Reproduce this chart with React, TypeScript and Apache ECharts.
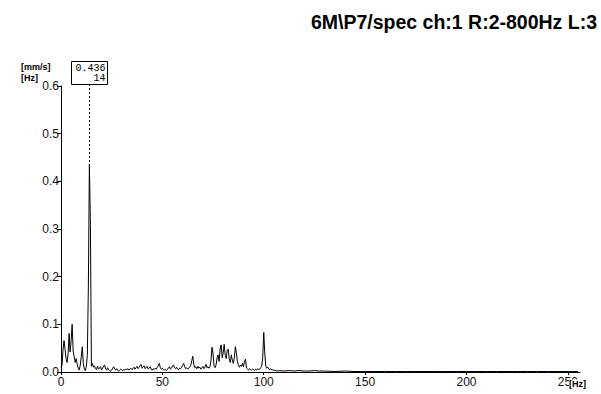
import React, { useEffect, useRef } from "react";
import * as echarts from "echarts";

// Spectrum bins (0.5 Hz resolution) from 0 Hz to 110 Hz, amplitude in mm/s
const BIN_HZ = 0.5;
const lowBandValues = [
  // 0 - 20 Hz
  0.010, 0.014, 0.046, 0.066, 0.048, 0.028, 0.020, 0.038, 0.081, 0.042,
  0.066, 0.100, 0.044, 0.032, 0.020, 0.028, 0.016, 0.008, 0.004, 0.014,
  0.032, 0.053, 0.018, 0.006, 0.003, 0.012, 0.035, 0.180, 0.436, 0.310,
  0.012, 0.018, 0.010, 0.013, 0.007, 0.005, 0.012, 0.006, 0.009, 0.011,
  0.004,
  // 20.5 - 40 Hz
  0.008, 0.012, 0.015, 0.006, 0.004, 0.009, 0.005, 0.003, 0.002, 0.004,
  0.008, 0.011, 0.006, 0.004, 0.007, 0.003, 0.002, 0.004, 0.006, 0.004,
  0.003, 0.005, 0.004, 0.006, 0.005, 0.007, 0.004, 0.006, 0.008, 0.005,
  0.007, 0.010, 0.006, 0.009, 0.012, 0.007, 0.010, 0.014, 0.016, 0.008,
  // 40.5 - 60 Hz
  0.011, 0.013, 0.007, 0.010, 0.012, 0.006, 0.008, 0.011, 0.006, 0.004,
  0.007, 0.005, 0.008, 0.006, 0.010, 0.013, 0.018, 0.009, 0.006, 0.008,
  0.005, 0.004, 0.006, 0.003, 0.005, 0.009, 0.011, 0.006, 0.008, 0.012,
  0.015, 0.009, 0.007, 0.010, 0.006, 0.005, 0.008, 0.007, 0.010, 0.014,
  // 60.5 - 80 Hz
  0.018, 0.011, 0.007, 0.009, 0.006, 0.008, 0.010, 0.014, 0.024, 0.033,
  0.016, 0.009, 0.011, 0.007, 0.012, 0.008, 0.010, 0.006, 0.009, 0.012,
  0.007, 0.010, 0.016, 0.009, 0.011, 0.008, 0.012, 0.025, 0.052, 0.038,
  0.012, 0.009, 0.015, 0.030, 0.036, 0.022, 0.048, 0.057, 0.030, 0.040,
  // 80.5 - 100 Hz
  0.058, 0.035, 0.028, 0.046, 0.048, 0.027, 0.020, 0.036, 0.025, 0.018,
  0.030, 0.053, 0.040, 0.022, 0.015, 0.010, 0.014, 0.012, 0.018, 0.011,
  0.022, 0.027, 0.008, 0.006, 0.004, 0.007, 0.005, 0.004, 0.006, 0.005,
  0.003, 0.006, 0.004, 0.007, 0.005, 0.006, 0.009, 0.012, 0.030, 0.083,
  // 100.5 - 110 Hz
  0.040, 0.012, 0.008, 0.010, 0.006, 0.005, 0.007, 0.004, 0.005, 0.003,
  0.004, 0.003, 0.002, 0.003, 0.002, 0.003, 0.002, 0.003, 0.002, 0.002,
];

// High band, sparse readings (almost flat on the axis)
const tailFreqs = [
  112.5, 115, 117.5, 120, 122.5, 125, 127.5, 130, 135, 140, 145, 150, 155,
  160, 165, 170, 175, 180, 185, 190, 195, 200, 205, 210, 215, 220, 225, 230,
  235, 240, 245, 250, 255,
];
const tailValues = [
  0.003, 0.002, 0.003, 0.002, 0.002, 0.003, 0.002, 0.002, 0.001, 0.002, 0.001,
  0.001, 0.001, 0.001, 0.001, 0.001, 0.001, 0.001, 0.001, 0.001, 0.001, 0.001,
  0.001, 0.001, 0.001, 0.001, 0.001, 0.001, 0.001, 0.001, 0.001, 0.001, 0.001,
];

const xTicks = [0, 50, 100, 150, 200, 250];
const yTicks = [0, 0.1, 0.2, 0.3, 0.4, 0.5, 0.6];
const X_MAX = 256;
const Y_MAX = 0.6;

const peakFreq = 14;
const peakValue = 0.436;

const titleText = "6M\\P7/spec ch:1 R:2-800Hz L:3";
const yUnitTop = "[mm/s]";
const yUnitBottom = "[Hz]";
const xUnit = "[Hz]";

const W = 601;
const H = 394;
const GRID = { left: 61, right: 21, top: 86, bottom: 22 };

export default function App() {
  const ref = useRef<HTMLDivElement>(null);

  useEffect(() => {
    if (!ref.current) return;
    const chart = echarts.init(ref.current, undefined, { renderer: "svg", width: W, height: H });

    const data: [number, number][] = lowBandValues
      .map((v, i) => [i * BIN_HZ, v] as [number, number])
      .concat(tailFreqs.map((f, i) => [f, tailValues[i]] as [number, number]));

    const axisFont = "'Liberation Sans', Arial, sans-serif";

    chart.setOption({
      animation: false,
      backgroundColor: "#ffffff",
      grid: { ...GRID, containLabel: false },
      xAxis: {
        type: "value",
        min: 0,
        max: X_MAX,
        interval: 50,
        axisLine: { show: true, lineStyle: { color: "#000", width: 1 } },
        axisTick: { show: true, length: 3, customValues: xTicks, lineStyle: { color: "#000" } },
        axisLabel: {
          customValues: xTicks,
          margin: 4,
          fontSize: 12,
          color: "#111",
          fontFamily: axisFont,
        },
        splitLine: { show: false },
      },
      yAxis: {
        type: "value",
        min: 0,
        max: Y_MAX,
        interval: 0.1,
        axisLine: { show: true, lineStyle: { color: "#000", width: 1 } },
        axisTick: { show: true, length: 4, customValues: yTicks, lineStyle: { color: "#000" } },
        axisLabel: {
          customValues: yTicks,
          margin: 2,
          fontSize: 12,
          color: "#111",
          fontFamily: axisFont,
          formatter: (v: number) => v.toFixed(1),
        },
        splitLine: { show: false },
      },
      series: [
        {
          type: "line",
          data,
          showSymbol: false,
          symbol: "none",
          lineStyle: { color: "#000", width: 1 },
          z: 3,
        },
      ],
    });

    const [px, py] = chart.convertToPixel({ gridIndex: 0 }, [peakFreq, peakValue]) as number[];
    const boxW = 36;
    const boxTop = 61;
    const boxBottom = 84;
    const boxLeft = Math.round(px - boxW / 2) + 0.5;

    chart.setOption({
      graphic: [
        {
          type: "text",
          right: 4,
          top: 12,
          style: {
            text: titleText,
            fontSize: 19.5,
            fontWeight: "bold",
            fontFamily: axisFont,
            fill: "#000",
          },
        },
        {
          type: "text",
          x: 21,
          y: 67,
          style: {
            text: yUnitTop,
            fontSize: 9,
            fontWeight: "bold",
            fontFamily: axisFont,
            fill: "#000",
            verticalAlign: "middle",
          },
        },
        {
          type: "text",
          x: 21,
          y: 78,
          style: {
            text: yUnitBottom,
            fontSize: 9,
            fontWeight: "bold",
            fontFamily: axisFont,
            fill: "#000",
            verticalAlign: "middle",
          },
        },
        {
          type: "line",
          shape: { x1: Math.round(px) + 0.5, y1: boxBottom, x2: Math.round(px) + 0.5, y2: py - 2 },
          style: { stroke: "#000", lineWidth: 1, lineDash: [2, 2] },
          z: 10,
        },
        {
          type: "rect",
          shape: { x: boxLeft, y: boxTop + 0.5, width: boxW, height: boxBottom - boxTop },
          style: { fill: "#fff", stroke: "#000", lineWidth: 1 },
          z: 11,
        },
        {
          type: "text",
          x: boxLeft + boxW - 2,
          y: boxTop + 7,
          z: 12,
          style: {
            text: peakValue.toFixed(3),
            fontSize: 10,
            fontFamily: "'Liberation Mono', 'DejaVu Sans Mono', monospace",
            fill: "#000",
            align: "right",
            verticalAlign: "middle",
          },
        },
        {
          type: "text",
          x: boxLeft + boxW - 2,
          y: boxTop + 17,
          z: 12,
          style: {
            text: String(peakFreq),
            fontSize: 10,
            fontFamily: "'Liberation Mono', 'DejaVu Sans Mono', monospace",
            fill: "#000",
            align: "right",
            verticalAlign: "middle",
          },
        },
        {
          type: "text",
          x: 569,
          y: 384,
          z: 12,
          style: {
            text: xUnit,
            fontSize: 9,
            fontWeight: "bold",
            fontFamily: axisFont,
            fill: "#000",
            backgroundColor: "#fff",
            verticalAlign: "middle",
          },
        },
      ],
    });

    return () => chart.dispose();
  }, []);

  return (
    <div
      ref={ref}
      style={{ position: "fixed", left: 0, top: 0, width: W, height: H, background: "#fff" }}
    />
  );
}
